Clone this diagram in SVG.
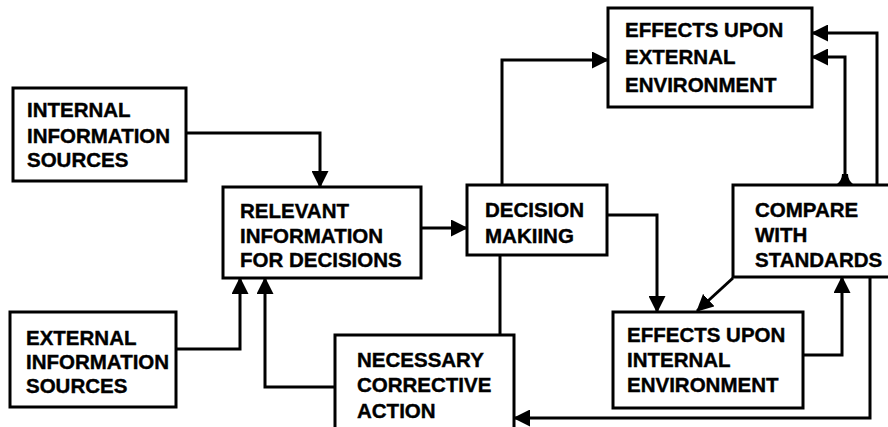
<svg xmlns="http://www.w3.org/2000/svg" width="888" height="427" viewBox="0 0 888 427">
  <defs>
    <style>
      .box { fill: #ffffff; stroke: #000000; stroke-width: 3; }
      .lbl { font-family: "Liberation Sans", Arial, Helvetica, sans-serif; font-weight: bold; font-size: 20.5px; fill: #000000; stroke: #000000; stroke-width: 0.4; }
      .wire { fill: none; stroke: #000000; stroke-width: 3; stroke-linejoin: miter; }
      .arr { marker-end: url(#head); }
    </style>
    <marker id="head" viewBox="0 0 17 17" refX="16" refY="8.5" markerWidth="17" markerHeight="17" markerUnits="userSpaceOnUse" orient="auto">
      <path d="M0,0 L17,8.5 L0,17 Z" fill="#000000"/>
    </marker>
  </defs>

  <rect width="888" height="427" fill="#ffffff"/>

  <!-- connectors -->
  <g id="connectors">
    <path class="wire arr" d="M186,133 H320 V187"/>
    <path class="wire arr" d="M176,349 H240 V278"/>
    <path class="wire arr" d="M335,387 H265 V278"/>
    <path class="wire arr" d="M421,228 H467"/>
    <path class="wire arr" d="M502,185 V60 H608"/>
    <path class="wire arr" d="M607,215 H657 V312"/>
    <path class="wire" d="M500,255 V335"/>
    <path class="wire arr" d="M733,278 L697,311"/>
    <path class="wire arr" d="M803,355 H842 V277"/>
    <path class="wire arr" d="M870,277 V418 H514"/>
    <path class="wire arr" d="M845,185 V57 H812"/>
    <path class="wire arr" d="M877,185 V33 H812"/>
    <!-- small head sitting on the top edge of the comparison box -->
    <path d="M837,184 Q842,180 842,174 L848,174 Q848,180 853,184 Z" fill="#000000"/>
  </g>

  <g id="internal-sources">
    <rect class="box" x="13" y="88" width="173" height="93"/>
    <text class="lbl" x="27" y="117">INTERNAL</text>
    <text class="lbl" x="27" y="142.5">INFORMATION</text>
    <text class="lbl" x="27" y="167">SOURCES</text>
  </g>

  <g id="external-sources">
    <rect class="box" x="10" y="312" width="166" height="95"/>
    <text class="lbl" x="26" y="345">EXTERNAL</text>
    <text class="lbl" x="26" y="369">INFORMATION</text>
    <text class="lbl" x="26" y="393">SOURCES</text>
  </g>

  <g id="relevant-information">
    <rect class="box" x="223" y="187" width="198" height="91"/>
    <text class="lbl" x="240" y="218">RELEVANT</text>
    <text class="lbl" x="240" y="243">INFORMATION</text>
    <text class="lbl" x="240" y="267">FOR DECISIONS</text>
  </g>

  <g id="corrective-action">
    <rect class="box" x="335" y="335" width="179" height="110"/>
    <text class="lbl" x="357" y="367">NECESSARY</text>
    <text class="lbl" x="357" y="392">CORRECTIVE</text>
    <text class="lbl" x="357" y="418">ACTION</text>
  </g>

  <g id="decision-making">
    <rect class="box" x="467" y="185" width="140" height="70"/>
    <text class="lbl" x="485" y="217">DECISION</text>
    <text class="lbl" x="485" y="243">MAKIING</text>
  </g>

  <g id="effects-external">
    <rect class="box" x="608" y="8" width="204" height="99"/>
    <text class="lbl" x="625" y="37">EFFECTS UPON</text>
    <text class="lbl" x="625" y="64">EXTERNAL</text>
    <text class="lbl" x="625" y="92">ENVIRONMENT</text>
  </g>

  <g id="compare-standards">
    <rect class="box" x="733" y="185" width="165" height="92"/>
    <text class="lbl" x="755" y="217">COMPARE</text>
    <text class="lbl" x="755" y="242">WITH</text>
    <text class="lbl" x="755" y="267">STANDARDS</text>
  </g>

  <g id="effects-internal">
    <rect class="box" x="613" y="312" width="190" height="96"/>
    <text class="lbl" x="627" y="342">EFFECTS UPON</text>
    <text class="lbl" x="627" y="367">INTERNAL</text>
    <text class="lbl" x="627" y="392">ENVIRONMENT</text>
  </g>
</svg>
